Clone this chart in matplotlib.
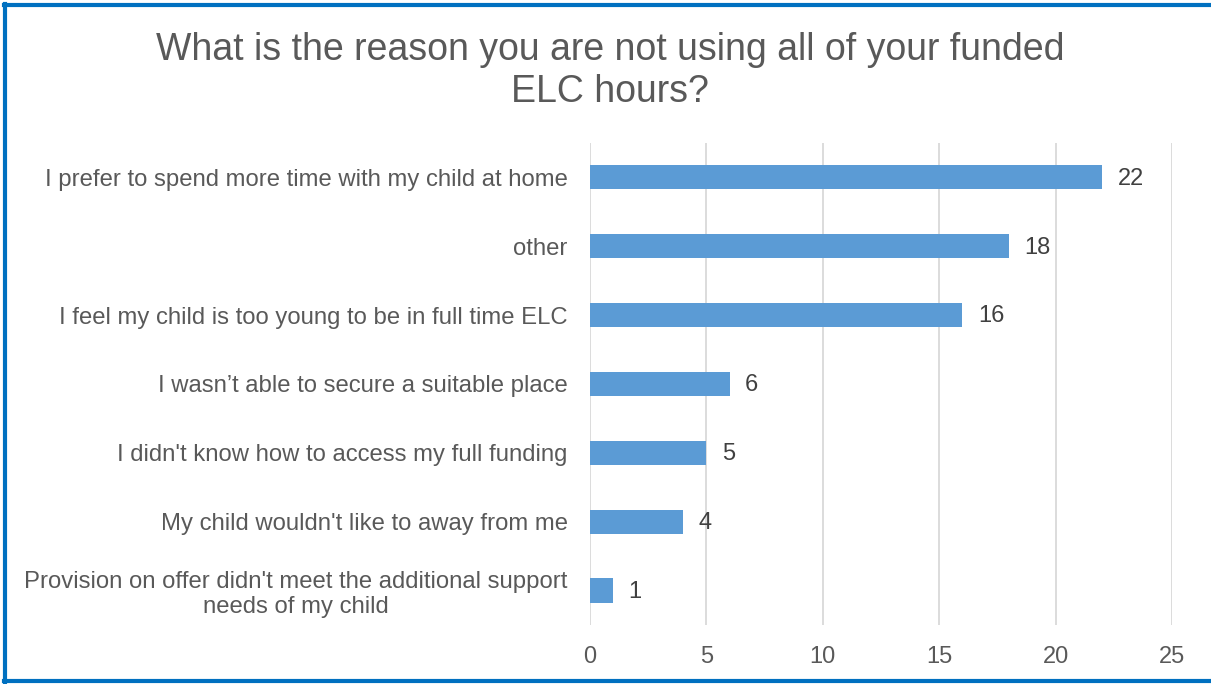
import matplotlib.pyplot as plt
import numpy as np

plt.rcParams['font.family'] = ['Liberation Sans', 'DejaVu Sans']

title = 'What is the reason you are not using all of your funded\nELC hours?'
reasons = ['I prefer to spend more time with my child at home',
           'other',
           'I feel my child is too young to be in full time ELC',
           'I wasn\u2019t able to secure a suitable place',
           "I didn't know how to access my full funding",
           "My child wouldn't like to away from me",
           "Provision on offer didn't meet the additional support\nneeds of my child"]
counts = [22, 18, 16, 6, 5, 4, 1]
ticks = [0, 5, 10, 15, 20, 25]

fig = plt.figure(figsize=(12.11, 6.84), dpi=100)
ax = fig.add_axes([0.4872, 0.0863, 0.4806, 0.7047])

y = np.arange(len(reasons))
ax.barh(y, counts, height=0.35, color='#5B9BD5', zorder=3)
for yi, v in zip(y, counts):
    ax.annotate(str(v), (v, yi), xytext=(11, -1), textcoords='offset points',
                va='center', ha='left', fontsize=17, color='#404040')

ax.set_ylim(len(reasons) - 0.5, -0.5)
ax.set_xlim(0, 25)
ax.set_xticks(ticks)
ax.set_yticks(y)
ax.set_yticklabels(reasons, fontsize=17.2, color='#595959', ha='right',
                   multialignment='center', linespacing=1.15)
ax.tick_params(axis='y', length=0, pad=16)
ax.tick_params(axis='x', length=0, labelsize=17, labelcolor='#595959', pad=15)
ax.grid(axis='x', color='#D9D9D9', linewidth=1.3, zorder=0)
for s in ax.spines.values():
    s.set_visible(False)

fig.text(0.504, 0.896, title, ha='center', va='center', fontsize=27, color='#595959', linespacing=1.22)

# frame around the chart
fig.add_artist(plt.Line2D([0.0045, 0.0045], [0.003, 0.994], color='#0070C0', lw=3))
fig.add_artist(plt.Line2D([0.003, 1.0], [0.993, 0.993], color='#0070C0', lw=3))
fig.add_artist(plt.Line2D([0.003, 1.0], [0.004, 0.004], color='#0070C0', lw=3))

plt.savefig('out.png')
